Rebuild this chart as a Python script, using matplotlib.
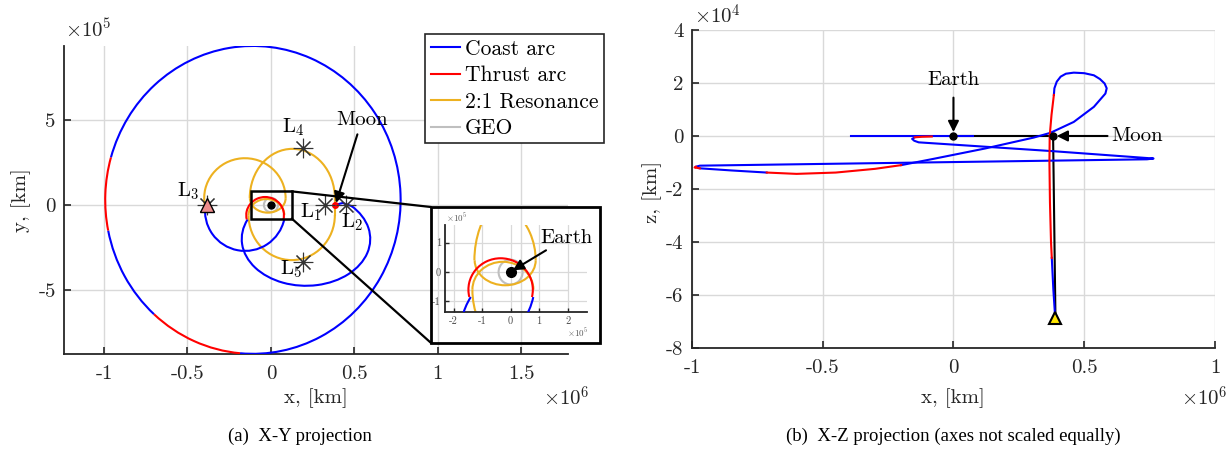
import numpy as np
import matplotlib.pyplot as plt
from matplotlib.patches import Arc, Circle, Rectangle, ConnectionPatch
from matplotlib.lines import Line2D

plt.rcParams['font.family'] = 'cmr10'
plt.rcParams['mathtext.fontset'] = 'cm'
plt.rcParams['axes.unicode_minus'] = False

BLUE = (0, 0, 1)
RED = (1, 0, 0)
ORANGE = (0.929, 0.694, 0.125)
GEO_C = (0.75, 0.75, 0.75)
GRID_C = (0.85, 0.85, 0.85)
AX_C = (0.15, 0.15, 0.15)

# ---- X-Y projection, ellipse arcs [km]: centre x, centre y, width, height, start/end angle (deg)
coast_arcs = [
    (-1.08e5, 0.3e5, 1.77e6, 1.81e6, 265, 524),     # outer loop
    (-1.08e5, 0.3e5, 1.77e6, 1.81e6, 191.5, 228),
    (0.21e6, -2.0e5, 0.77e6, 5.5e5, 155.3, 405),    # loop round L2
    (-0.155e6, -0.35e5, 0.48e6, 4.7e5, 171, 347.7),  # loop back to L3
]
thrust_arcs = [
    (-1.08e5, 0.3e5, 1.77e6, 1.81e6, 164, 191.5),
    (-1.08e5, 0.3e5, 1.77e6, 1.81e6, 228, 265),
    (-0.35e5, -0.6e5, 2.26e5, 2.14e5, -13.5, 193.5),  # perigee pass
]
resonance_arcs = [
    (-0.156e6, 0.4e5, 0.488e6, 4.7e5, 0, 190),
    (-0.19e5, 0.4e5, 2.14e5, 1.7e5, 180, 360),
    (0.128e6, 0.4e5, 0.51e6, 5.8e5, 0, 180),
    (0.1245e6, -0.6e5, 0.517e6, 5.28e5, 180, 360),
    (-0.27e5, -0.6e5, 2.14e5, 1.9e5, 0, 180),
]
res_join_x = [0.383e6, 0.383e6]
res_join_y = [0.4e5, -0.6e5]
moon_hook_x = [0.384e6, 0.43e6, 0.482e6]
moon_hook_y = [0.0, 0.12e5, -0.06e5]
geo_radius = 42164.0

moon_xy = (0.3844e6, 0.0)
lagr_x = [3.26e5, 4.49e5, -3.86e5, 1.92e5, 1.92e5]
lagr_y = [0.0, 0.0, 0.0, 3.33e5, -3.33e5]
lagr_names = ['1', '2', '3', '4', '5']
lagr_lab_x = [0.24e6, 0.485e6, -0.495e6, 0.133e6, 0.12e6]
lagr_lab_y = [-0.4e5, -1.0e5, 0.8e5, 4.55e5, -3.75e5]
box_x = [-1.22e5, 1.25e5]
box_y = [-0.8e5, 0.8e5]

# ---- X-Z projection [km]
xz_coast_x = [
    [-0.39e6, 0.075e6],
    [-0.148e6, -0.158e6, -0.15e6, -0.133e6, 0.376e6, 0.765e6, 0.74e6, -0.97e6, -0.985e6],
    [-0.97e6, -0.85e6, -0.714e6],
    [-0.2e6, -0.075e6, 0.122e6, 0.307e6, 0.371e6, 0.46e6, 0.537e6, 0.581e6, 0.586e6,
     0.578e6, 0.56e6, 0.537e6, 0.5e6, 0.46e6, 0.43e6, 0.41e6, 0.395e6, 0.386e6, 0.384e6],
    [0.376e6, 0.382e6, 0.389e6],
]
xz_coast_z = [
    [0.0, 0.0],
    [-0.05e4, -0.11e4, -0.18e4, -0.24e4, -0.57e4, -0.85e4, -0.88e4, -1.12e4, -1.16e4],
    [-1.22e4, -1.3e4, -1.38e4],
    [-1.1e4, -0.86e4, -0.47e4, -0.06e4, 0.12e4, 0.53e4, 1.1e4, 1.6e4, 1.8e4,
     1.98e4, 2.15e4, 2.29e4, 2.37e4, 2.39e4, 2.35e4, 2.24e4, 2.05e4, 1.8e4, 1.55e4],
    [-4.6e4, -5.8e4, -6.85e4],
]
xz_thrust_x = [
    [-0.083e6, -0.12e6, -0.148e6],
    [-0.985e6, -0.99e6, -0.97e6],
    [-0.714e6, -0.6e6, -0.45e6, -0.3e6, -0.2e6],
    [0.384e6, 0.375e6, 0.368e6, 0.367e6, 0.369e6, 0.373e6, 0.376e6],
]
xz_thrust_z = [
    [-0.02e4, -0.03e4, -0.05e4],
    [-1.16e4, -1.19e4, -1.22e4],
    [-1.38e4, -1.43e4, -1.38e4, -1.24e4, -1.1e4],
    [1.55e4, 0.8e4, 0.0, -1.0e4, -2.5e4, -4.0e4, -4.6e4],
]
xz_black_x = [0.0, 0.381e6, 0.39e6]
xz_black_z = [0.0, 0.0, -6.85e4]
xz_end = (0.39e6, -6.85e4)

FS = 15


def add_arcs(ax, arcs, color, lw, z):
    for cx, cy, w, h, t1, t2 in arcs:
        # Arc wants polar angles; the ones above are ellipse parameter angles
        a1 = np.degrees(np.arctan2(h * np.sin(np.radians(t1)), w * np.cos(np.radians(t1))))
        a2 = np.degrees(np.arctan2(h * np.sin(np.radians(t2)), w * np.cos(np.radians(t2))))
        ax.add_patch(Arc((cx, cy), w, h, theta1=a1, theta2=a2, color=color, lw=lw, zorder=z))


def draw_xy(ax, lw, earth_ms):
    ax.add_patch(Circle((0, 0), geo_radius, fill=False, color=GEO_C, lw=lw, zorder=2))
    add_arcs(ax, resonance_arcs, ORANGE, lw, 2.5)
    ax.plot(res_join_x, res_join_y, color=ORANGE, lw=lw, zorder=2.5)
    add_arcs(ax, coast_arcs, BLUE, lw, 3)
    add_arcs(ax, thrust_arcs, RED, lw, 3.2)
    ax.plot(moon_hook_x, moon_hook_y, color=BLUE, lw=lw, zorder=3)
    ax.plot(0, 0, 'o', color='k', ms=earth_ms, zorder=5)


def style_axes(ax):
    for s in ['top', 'right']:
        ax.spines[s].set_visible(False)
    for s in ['left', 'bottom']:
        ax.spines[s].set_linewidth(1.3)
        ax.spines[s].set_color(AX_C)
    ax.grid(True, color=GRID_C, lw=1.0)
    ax.set_axisbelow(True)
    ax.tick_params(direction='in', length=5, width=1.2, color=AX_C, labelsize=FS,
                   labelcolor=AX_C)
    ax.tick_params(axis='x', pad=8)
    ax.tick_params(axis='y', pad=6)


fig = plt.figure(figsize=(12.26, 4.55), dpi=100)

# ---------------- (a) X-Y projection
ax1 = fig.add_axes([0.0522, 0.222, 0.4111, 0.677])
ax1.set_xlim(-1.24e6, 1.78e6)
ax1.set_ylim(-8.76e5, 9.35e5)
style_axes(ax1)
ax1.set_xticks([-1e6, -0.5e6, 0, 0.5e6, 1e6, 1.5e6])
ax1.set_xticklabels(['-1', '-0.5', '0', '0.5', '1', '1.5'])
ax1.set_yticks([-5e5, 0, 5e5])
ax1.set_yticklabels(['-5', '0', '5'])

draw_xy(ax1, 1.5, 5)
ax1.plot(*moon_xy, 'o', color=RED, ms=4, zorder=6)
ax1.plot(lagr_x, lagr_y, ls='none', marker=(8, 2, 0), ms=14, mec=(0.2, 0.2, 0.2),
         mew=0.8, zorder=6)
ax1.plot(lagr_x[2], lagr_y[2], marker='^', ms=10, mfc=(0.93, 0.55, 0.55), mec='k',
         mew=1.0, zorder=7)
for nm, lx, ly in zip(lagr_names, lagr_lab_x, lagr_lab_y):
    ax1.text(lx, ly, 'L$_{' + nm + '}$', fontsize=FS, ha='center', va='center', zorder=8)
ax1.annotate('Moon', xy=(0.39e6, 0.12e5), xytext=(0.545e6, 5.0e5), fontsize=FS,
             ha='center', va='center', zorder=8,
             arrowprops=dict(arrowstyle='-|>', color='k', lw=1.5, mutation_scale=16,
                             shrinkA=2, shrinkB=0))
ax1.add_patch(Rectangle((box_x[0], box_y[0]), box_x[1] - box_x[0], box_y[1] - box_y[0],
                        fill=False, ec='k', lw=1.8, zorder=9))

# inset frame and zoom lines
frame = Rectangle((0.3516, 0.2462), 0.1378, 0.299, transform=fig.transFigure,
                  fill=False, ec='k', lw=2.0, zorder=10)
fig.add_artist(frame)
for yb, yf in [(box_y[1], 0.545), (box_y[0], 0.2462)]:
    con = ConnectionPatch(xyA=(box_x[1], yb), coordsA=ax1.transData,
                          xyB=(0.3516, yf), coordsB=fig.transFigure,
                          color='k', lw=1.6, zorder=10)
    fig.add_artist(con)

leg_handles = [Line2D([], [], color=BLUE, lw=1.5), Line2D([], [], color=RED, lw=1.5),
               Line2D([], [], color=ORANGE, lw=1.5), Line2D([], [], color=GEO_C, lw=1.5)]
leg = ax1.legend(leg_handles, ['Coast arc', 'Thrust arc', '2:1 Resonance', 'GEO'],
                 loc='upper right', bbox_to_anchor=(0.4927, 0.9253),
                 bbox_transform=fig.transFigure, fontsize=15.5, frameon=True,
                 fancybox=False, framealpha=1, edgecolor=AX_C, borderaxespad=0,
                 borderpad=0.25, labelspacing=0.32, handlelength=1.35, handletextpad=0.25)
leg.get_frame().set_linewidth(1.2)
leg.set_zorder(12)

# inset axes
axi = fig.add_axes([0.363, 0.3143, 0.1158, 0.191])
axi.patch.set_alpha(0)
axi.set_xlim(-2.3e5, 2.68e5)
axi.set_ylim(-1.36e5, 1.6e5)
for s in ['top', 'right']:
    axi.spines[s].set_visible(False)
for s in ['left', 'bottom']:
    axi.spines[s].set_linewidth(1.3)
    axi.spines[s].set_color(AX_C)
axi.grid(True, color=GRID_C, lw=0.9)
axi.set_axisbelow(True)
axi.set_xticks([-2e5, -1e5, 0, 1e5, 2e5])
axi.set_xticklabels(['-2', '-1', '0', '1', '2'])
axi.set_yticks([-1e5, 0, 1e5])
axi.set_yticklabels(['-1', '0', '1'])
axi.tick_params(direction='in', length=3, width=1, color=AX_C, labelsize=7.5,
                labelcolor=(0.3, 0.3, 0.3), pad=3)
draw_xy(axi, 1.5, 7)
axi.annotate('Earth', xy=(0.08e5, 0.06e5), xytext=(1.05e5, 0.86e5), fontsize=FS,
             ha='left', va='bottom', zorder=8, annotation_clip=False,
             arrowprops=dict(arrowstyle='-|>', color='k', lw=1.5, mutation_scale=16,
                             shrinkA=1, shrinkB=0))
fig.text(0.364, 0.521, r'$\times10^5$', fontsize=6.5, color=(0.35, 0.35, 0.35), va='center')
fig.text(0.4625, 0.268, r'$\times10^5$', fontsize=6.5, color=(0.35, 0.35, 0.35), va='center')

fig.text(0.053, 0.934, r'$\times10^5$', fontsize=FS, color=AX_C, va='center')
fig.text(0.443, 0.125, r'$\times10^6$', fontsize=FS, color=AX_C, va='center')
fig.text(0.2577, 0.125, 'x, [km]', fontsize=FS, color=AX_C, ha='center', va='center')
fig.text(0.0172, 0.56, 'y, [km]', fontsize=FS, color=AX_C, ha='center', va='center',
         rotation=90)

# ---------------- (b) X-Z projection
ax2 = fig.add_axes([0.5644, 0.2352, 0.4266, 0.6989])
ax2.set_xlim(-1e6, 1e6)
ax2.set_ylim(-8e4, 4e4)
style_axes(ax2)
ax2.set_xticks([-1e6, -0.5e6, 0, 0.5e6, 1e6])
ax2.set_xticklabels(['-1', '-0.5', '0', '0.5', '1'])
ax2.set_yticks([-8e4, -6e4, -4e4, -2e4, 0, 2e4, 4e4])
ax2.set_yticklabels(['-8', '-6', '-4', '-2', '0', '2', '4'])

ax2.plot(xz_black_x, xz_black_z, color='k', lw=1.5, zorder=2)
for xs, zs in zip(xz_coast_x, xz_coast_z):
    ax2.plot(xs, zs, color=BLUE, lw=1.5, zorder=3)
for xs, zs in zip(xz_thrust_x, xz_thrust_z):
    ax2.plot(xs, zs, color=RED, lw=1.5, zorder=3.2)
ax2.plot(0, 0, 'o', color='k', ms=5, zorder=5)
ax2.plot(xz_black_x[1], 0, 'o', color='k', ms=5, zorder=5)
ax2.plot(*xz_end, marker='^', ms=9, mfc=(1, 0.9, 0), mec='k', mew=1.5, zorder=6)
ax2.annotate('Earth', xy=(0, 0.15e4), xytext=(0, 2.1e4), fontsize=FS, ha='center',
             va='center', zorder=8,
             arrowprops=dict(arrowstyle='-|>', color='k', lw=1.5, mutation_scale=16,
                             shrinkA=4, shrinkB=0))
ax2.annotate('Moon', xy=(0.395e6, 0), xytext=(0.605e6, 0), fontsize=FS, ha='left',
             va='center', zorder=8,
             arrowprops=dict(arrowstyle='-|>', color='k', lw=1.5, mutation_scale=16,
                             shrinkA=1, shrinkB=0))

fig.text(0.566, 0.966, r'$\times10^4$', fontsize=FS, color=AX_C, va='center')
fig.text(0.963, 0.125, r'$\times10^6$', fontsize=FS, color=AX_C, va='center')
fig.text(0.7773, 0.125, 'x, [km]', fontsize=FS, color=AX_C, ha='center', va='center')
fig.text(0.532, 0.578, 'z, [km]', fontsize=FS, color=AX_C, ha='center', va='center',
         rotation=90)

fig.text(0.2447, 0.04, '(a)  X-Y projection', fontsize=13.5, ha='center', va='center',
         family='Liberation Serif')
fig.text(0.7773, 0.04, '(b)  X-Z projection (axes not scaled equally)', fontsize=13.5,
         ha='center', va='center', family='Liberation Serif')

fig.savefig('out.png', dpi=100)
